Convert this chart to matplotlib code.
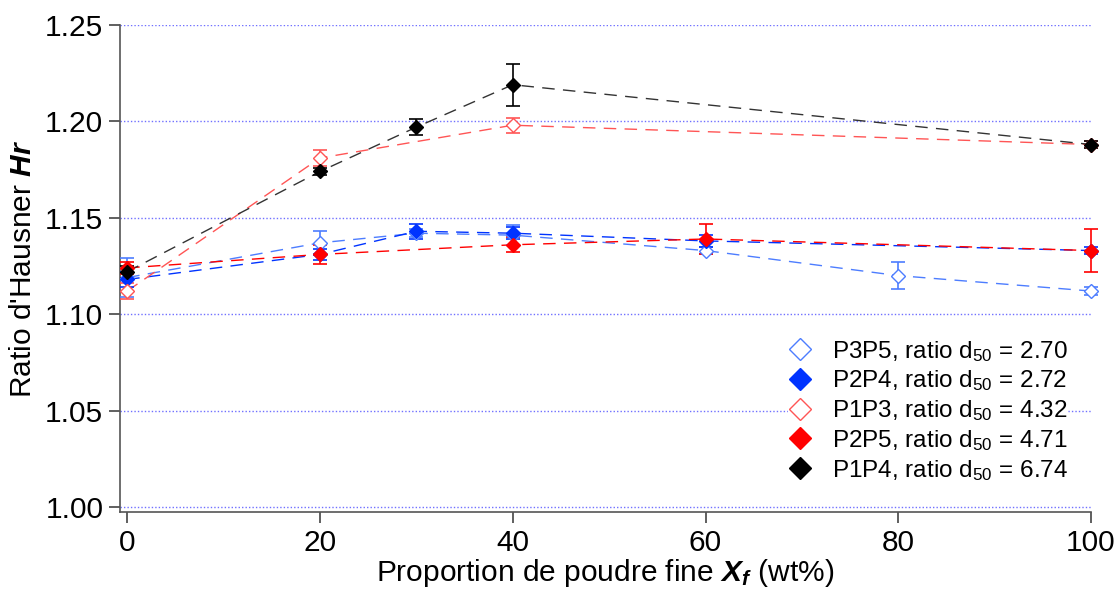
import matplotlib
matplotlib.use("Agg")
from matplotlib import pyplot as plt
from matplotlib.lines import Line2D

plt.rcParams['font.family'] = ['Liberation Sans', 'DejaVu Sans']
plt.rcParams['mathtext.fontset'] = 'custom'
plt.rcParams['mathtext.rm'] = 'Liberation Sans'
plt.rcParams['mathtext.it'] = 'Liberation Sans:italic'
plt.rcParams['mathtext.bf'] = 'Liberation Sans:bold'
plt.rcParams['mathtext.bfit'] = 'Liberation Sans:italic:bold'

# data
x_p3p5 = [0, 20, 30, 40, 60, 80, 100]
y_p3p5 = [1.119, 1.137, 1.142, 1.141, 1.133, 1.120, 1.112]
e_p3p5 = [0.010, 0.006, 0.002, 0.005, 0.002, 0.007, 0.002]

x_p2p4 = [0, 20, 30, 40, 60, 100]
y_p2p4 = [1.118, 1.131, 1.143, 1.142, 1.138, 1.133]
e_p2p4 = [0.004, 0.003, 0.004, 0.003, 0.003, 0.002]

x_p1p3 = [0, 20, 40, 100]
y_p1p3 = [1.112, 1.181, 1.198, 1.188]
e_p1p3 = [0.004, 0.004, 0.004, 0.002]

x_p2p5 = [0, 20, 40, 60, 100]
y_p2p5 = [1.124, 1.131, 1.136, 1.139, 1.133]
e_p2p5 = [0.003, 0.005, 0.004, 0.008, 0.011]

x_p1p4 = [0, 20, 30, 40, 100]
y_p1p4 = [1.122, 1.174, 1.197, 1.219, 1.188]
e_p1p4 = [0.003, 0.002, 0.004, 0.011, 0.002]

labels = [r"P3P5, ratio d$_{50}$ = 2.70",
          r"P2P4, ratio d$_{50}$ = 2.72",
          r"P1P3, ratio d$_{50}$ = 4.32",
          r"P2P5, ratio d$_{50}$ = 4.71",
          r"P1P4, ratio d$_{50}$ = 6.74"]

series = [
    (x_p3p5, y_p3p5, e_p3p5, "#4d7dff", False),
    (x_p2p4, y_p2p4, e_p2p4, "#0033ff", True),
    (x_p1p3, y_p1p3, e_p1p3, "#ff5555", False),
    (x_p2p5, y_p2p5, e_p2p5, "#ff0000", True),
    (x_p1p4, y_p1p4, e_p1p4, "#000000", True),
]

fig = plt.figure(figsize=(11.18, 5.94), dpi=100)
ax = fig.add_axes([0.1073, 0.138, 0.8686, 0.820])

for y in [1.00, 1.05, 1.10, 1.15, 1.20, 1.25]:
    ax.axhline(y, color="#7070ff", linestyle=(0, (1, 1.5)), linewidth=1, zorder=0)

handles = []
for (xs, ys, es, c, filled), lab in zip(series, labels):
    line_c = "#333333" if c == "#000000" else c
    ax.plot(xs, ys, linestyle=(0, (9, 6)), color=line_c, linewidth=1, zorder=2)
    ax.errorbar(xs, ys, yerr=es, fmt="none", ecolor=c, elinewidth=1.2,
                capsize=5, capthick=1.2, zorder=3, clip_on=False)
    ax.plot(xs, ys, linestyle="none", marker="D", markersize=7,
            markerfacecolor=c if filled else "white",
            markeredgecolor=c, markeredgewidth=1, zorder=4, clip_on=False)
    handles.append(Line2D([], [], linestyle="none", marker="D", markersize=11,
                          markerfacecolor=c if filled else "white",
                          markeredgecolor=c, markeredgewidth=1))

ax.set_xlim(-0.75, 100)
ax.set_ylim(0.9974, 1.25)
ax.set_xticks([0, 20, 40, 60, 80, 100])
ax.set_yticks([1.00, 1.05, 1.10, 1.15, 1.20, 1.25])
ax.set_yticklabels(["1.00", "1.05", "1.10", "1.15", "1.20", "1.25"])
ax.tick_params(labelsize=21.5, direction="out", length=8, width=1.2,
               color="#444444", pad=4)
for s in ["top", "right"]:
    ax.spines[s].set_visible(False)
for s in ["left", "bottom"]:
    ax.spines[s].set_color("#555555")
    ax.spines[s].set_linewidth(1.2)

ax.set_xlabel(r"Proportion de poudre fine $\mathbfit{X}_{\mathbfit{f}}$ (wt%)",
              fontsize=21.5, labelpad=0)
ax.set_ylabel(r"Ratio d'Hausner $\mathbfit{Hr}$", fontsize=21.5, labelpad=6)

leg = ax.legend(handles, labels, loc="upper left", bbox_to_anchor=(0.688, 0.356),
                frameon=True, fontsize=17.5, handletextpad=0.8, labelspacing=0.2,
                handlelength=1.0, borderpad=0, borderaxespad=0, fancybox=False)
leg.get_frame().set_edgecolor("none")
leg.get_frame().set_facecolor("white")
leg.get_frame().set_alpha(1)

plt.savefig("out.png", dpi=100)
